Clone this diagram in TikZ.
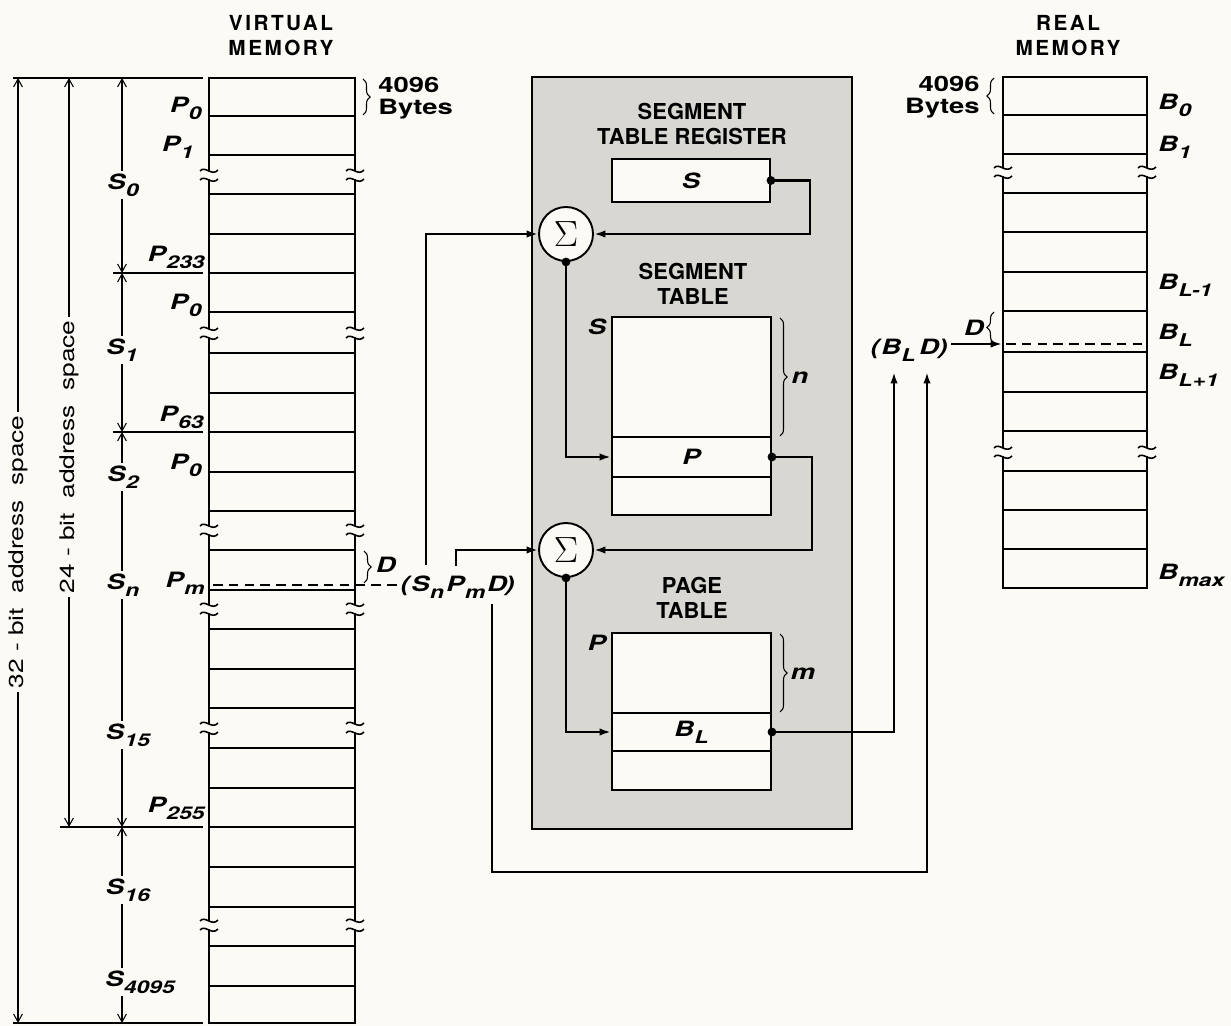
\documentclass[tikz,border=0pt]{standalone}
\usepackage{fontspec}
\setmainfont{TeX Gyre Heros}
\newfontfamily\labfont[FakeStretch=1.3]{TeX Gyre Heros}
\newfontfamily\ttlfont[LetterSpace=12]{TeX Gyre Heros}
\usetikzlibrary{arrows.meta,decorations.pathreplacing,calc}
\definecolor{bg}{RGB}{251,250,245}
\definecolor{boxgray}{RGB}{216,215,209}
\newcommand\Lsub[2]{#1\kern0.02em\raisebox{-0.6ex}{\fontsize{10}{12}\selectfont #2}}
\tikzset{
  ln/.style={line width=1.1pt},
  thin ln/.style={line width=0.6pt},
  darr/.style={line width=0.6pt,{Straight Barb[length=4.5pt,width=5pt]}-{Straight Barb[length=4.5pt,width=5pt]}},
  dashln/.style={line width=1.1pt,dash pattern=on 5.5pt off 3.5pt},
  wire/.style={line width=1.3pt},
  warr/.style={wire,-{Latex[length=6.5pt,width=4.2pt]}},
  lab/.style={font=\labfont\bfseries\itshape\fontsize{12}{14}\selectfont, inner sep=0pt},
  ulab/.style={font=\labfont\bfseries\fontsize{12}{12.5}\selectfont, inner sep=0pt},
  seglab/.style={lab, fill=bg, inner sep=1.5pt},
  dimlab/.style={font=\labfont\fontsize{11.5}{13}\selectfont, fill=bg, inner sep=2pt, rotate=90},
  head/.style={font=\ttlfont\bfseries\fontsize{11.8}{14.2}\selectfont, align=center, inner sep=0pt},
  head2/.style={font=\bfseries\fontsize{12.5}{14.5}\selectfont, align=center, inner sep=0pt},
  sig/.style={circle, draw, line width=1.1pt, fill=bg, minimum size=1.08cm, inner sep=0pt, font=\fontsize{21}{24}\selectfont},
  tbl/.style={rectangle, draw, ln, fill=bg, minimum width=3.18cm, inner sep=0pt, font=\labfont\bfseries\itshape\fontsize{12}{14}\selectfont},
  brc/.style={thin ln, decorate, decoration={brace, amplitude=4pt}},
  dot/.style={circle, fill, inner sep=0pt, minimum size=5pt},
  brk/.pic={
    \fill[bg] (-2.5,-4) rectangle (2.5,4);
    \draw[line width=0.9pt] (-9,-4) .. controls (-4,-10) and (3,2) .. (9,-5);
    \draw[line width=0.9pt] (-9,5) .. controls (-4,-1) and (3,11) .. (9,4);
  }
}
\begin{document}
\begin{tikzpicture}[x=0.02cm,y=-0.02cm]
\fill[bg] (0,0) rectangle (1231,1026);
\useasboundingbox (0,0) rectangle (1231,1026);

% shaded translation box
\draw[line width=1.1pt, fill=boxgray] (532,77) rectangle (852,829);

% titles
\node[head] (vmt) at (281,36) {VIRTUAL\\MEMORY};
\node[head] (rmt) at (1068,36) {REAL\\MEMORY};
\node[head2] (strt) at (692,124) {SEGMENT\\TABLE REGISTER};
\node[head2] (stt) at (693,284) {SEGMENT\\TABLE};
\node[head2] (ptt) at (692,598) {PAGE\\TABLE};

% ---------------- virtual memory column
\draw[ln] (209,78) rectangle (355,1023);
\foreach \y in {116,155,194,234,273,312,353,393,432,472,511,550,590,629,669,708,748,788,827,867,907,946,986}
  \draw[ln] (209,\y) -- (355,\y);
\foreach \y in {175,333,530,609,728,925}{
  \pic at (209,\y) {brk};
  \pic at (355,\y) {brk};
}

% extension lines
\draw[thin ln] (13,78) -- (203,78);
\draw[thin ln] (13,1023) -- (203,1023);
\draw[thin ln] (60,827) -- (203,827);
\draw[thin ln] (113,273) -- (203,273);
\draw[thin ln] (113,432) -- (203,432);

% dimension lines
\draw[darr] (122,78) -- (122,273);
\draw[darr] (122,273) -- (122,432);
\draw[darr] (122,432) -- (122,827);
\draw[darr] (122,827) -- (122,1023);
\draw[darr] (69,78) -- (69,827);
\draw[darr] (18,78) -- (18,1023);
\node[dimlab] (a32) at (18,552) {32 - bit\ \ address\ \ space};
\node[dimlab] (a24) at (69,457) {24 - bit\ \ address\ \ space};

% segment labels
\node[seglab] (s0) at (123,185) {\Lsub{S}{0}};
\node[seglab] (s1) at (122,350) {\Lsub{S}{1}};
\node[seglab] (s2) at (123,477) {\Lsub{S}{2}};
\node[seglab] (sn) at (123,585) {\Lsub{S}{n}};
\node[seglab] (s15) at (128,735) {\Lsub{S}{15}};
\node[seglab] (s16) at (128,890) {\Lsub{S}{16}};
\node[seglab] (s4095) at (140,982) {\Lsub{S}{4095}};

% page labels
\node[lab, anchor=base east] (p0a) at (202,113) {\Lsub{P}{0}};
\node[lab, anchor=base east] (p1) at (194,152) {\Lsub{P}{1}};
\node[lab, anchor=base east] (p233) at (205,262) {\Lsub{P}{233}};
\node[lab, anchor=base east] (p0b) at (202,310) {\Lsub{P}{0}};
\node[lab, anchor=base east] (p63) at (204,422) {\Lsub{P}{63}};
\node[lab, anchor=base east] (p0c) at (202,470) {\Lsub{P}{0}};
\node[lab, anchor=base east] (pmv) at (205,588) {\Lsub{P}{m}};
\node[lab, anchor=base east] (p255) at (205,813) {\Lsub{P}{255}};

% 4096 bytes (virtual)
\draw[brc] (363,79) -- (363,115);
\node[ulab, anchor=west, align=left] (vbytes) at (378,98) {4096\\Bytes};

% displacement D (virtual)
\draw[brc] (364,551) -- (364,583);
\node[lab] (vd) at (386,565) {D};

% virtual address tuple
\node[lab, anchor=base east] (lp) at (410,592) {(};
\node[lab, anchor=base west] (sA) at (411,592) {\Lsub{S}{n}};
\node[lab, anchor=base west] (pA) at (446,592) {\Lsub{P}{m}};
\node[lab, anchor=base west] (dA) at (487,592) {D};
\node[lab, anchor=base west] (rp) at (505,592) {)};
\coordinate (vmD) at (213,585);
\draw[dashln] (vmD) -- (vmD -| lp.west);

% adders
\node[sig] (sig1) at (566,234) {$\Sigma$};
\node[sig] (sig2) at (566,550) {$\Sigma$};

% segment table register
\node[tbl, minimum width=3.16cm, minimum height=0.86cm] (str) at (691,180.5) {S};

% segment table
\node[tbl, minimum height=2.4cm] (segtop) at (691.5,377) {};
\node[tbl, minimum height=0.8cm] (segP) at (691.5,457) {P};
\node[tbl, minimum height=0.76cm] (segbot) at (691.5,496) {};
\node[lab] (segS) at (597,327) {S};
\draw[brc] (780,318) -- (780,436);
\node[lab] (nlab) at (800,378) {n};

% page table
\node[tbl, minimum height=1.6cm] (pgtop) at (691.5,673) {};
\node[tbl, minimum height=0.76cm] (pgB) at (691.5,732) {\Lsub{B}{L}};
\node[tbl, minimum height=0.78cm] (pgbot) at (691.5,770.5) {};
\node[lab] (pgP) at (597,643) {P};
\draw[brc] (780,634) -- (780,712);
\node[lab] (mlab) at (803,674) {m};

% ---------------- real memory column
\draw[ln] (1003,77) rectangle (1147,588);
\foreach \y in {115,154,193,232,272,311,352,392,431,471,510,549}
  \draw[ln] (1003,\y) -- (1147,\y);
\foreach \y in {172,452}{
  \pic at (1003,\y) {brk};
  \pic at (1147,\y) {brk};
}
\draw[dashln] (1006,344) -- (1145,344);

\node[lab, anchor=base west] (b0) at (1158,110) {\Lsub{B}{0}};
\node[lab, anchor=base west] (b1) at (1158,152) {\Lsub{B}{1}};
\node[lab, anchor=base west] (blm) at (1158,290) {\Lsub{B}{L-1}};
\node[lab, anchor=base west] (bl) at (1158,340) {\Lsub{B}{L}};
\node[lab, anchor=base west] (blp) at (1158,380) {\Lsub{B}{L+1}};
\node[lab, anchor=base west] (bmax) at (1158,580) {\Lsub{B}{max}};

\draw[brc] (994,114) -- (994,78);
\node[ulab, anchor=east, align=right] (rbytes) at (980,97) {4096\\Bytes};
\draw[brc] (994,343) -- (994,312);
\node[lab] (rd) at (974,328) {D};

% real address tuple
\node[lab, anchor=base east] (lpb) at (880,355) {(};
\node[lab, anchor=base west] (bA) at (881,355) {\Lsub{B}{L}};
\node[lab, anchor=base west] (dB) at (919,355) {D};
\node[lab, anchor=base west] (rpb) at (938,355) {)};
\coordinate (rmD) at (1002,344);
\draw[line width=1.1pt,-{Latex[length=6.5pt,width=4.2pt]}] ([xshift=2pt]rpb.east |- rmD) -- (rmD);

% ---------------- wires
\coordinate (botY) at (0,872);
\coordinate (swire) at ($(sA.base west)+(15,-27)$);
\coordinate (pwire) at ($(pA.base west)+(10,-26)$);
\coordinate (dwire) at ($(dA.base west)+(5,12)$);
\coordinate (bend) at ($(bA.base west)+(13,17)$);
\coordinate (dend) at ($(dB.base west)+(8,17)$);
\draw[warr] (swire) |- (sig1.west);
\draw[warr] (pwire) |- (sig2.west);
\draw[warr] (dwire) -- (dwire |- botY) -| (dend);
\draw[warr] (pgB.east) -| (bend);
\draw[warr] (str.east) -- ++(39,0) |- (sig1.east);
\draw[warr] (sig1.south) |- (segP.west);
\draw[warr] (segP.east) -- ++(40,0) |- (sig2.east);
\draw[warr] (sig2.south) |- (pgB.west);

\node[dot] (d1) at (str.east) {};
\node[dot] (d2) at (sig1.south) {};
\node[dot] (d3) at (segP.east) {};
\node[dot] (d4) at (sig2.south) {};
\node[dot] (d5) at (pgB.east) {};
\end{tikzpicture}
\end{document}
